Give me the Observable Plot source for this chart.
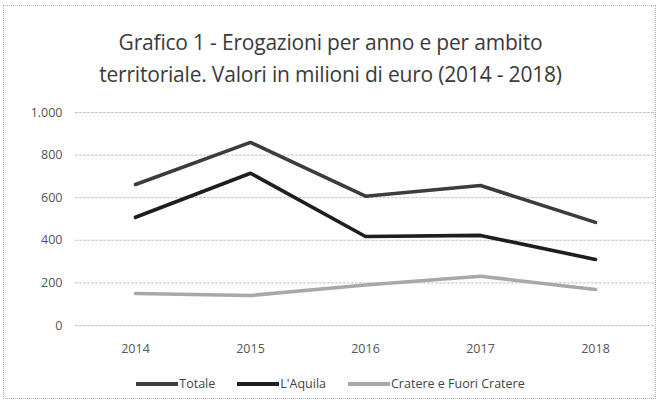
<!DOCTYPE html>
<html>
<head>
<meta charset="utf-8">
<script src="https://cdn.jsdelivr.net/npm/d3@7"></script>
<script src="https://cdn.jsdelivr.net/npm/@observablehq/plot@0.6"></script>
<style>
  html, body { margin: 0; padding: 0; background: #fff; }
  #frame { position: absolute; left: 3px; top: 5px; width: 653px; height: 394px; border: 1px dotted #b0b0b0; box-sizing: border-box; }
  #wrap { position: absolute; left: 0; top: 0; width: 661px; height: 403px; font-family: "Open Sans", sans-serif; }
  #title { position: absolute; left: 0; top: 26px; width: 661px; text-align: center; font-size: 21px; line-height: 32px; color: #3a3a3a; letter-spacing: -0.2px; }
  #chart { position: absolute; left: 0; top: 95px; }
  #legend { position: absolute; left: 0; top: 375px; width: 661px; display: flex; justify-content: center; gap: 22px; font-size: 12.5px; color: #444; }
  .item { display: flex; align-items: center; }
  .sw { width: 42px; height: 4px; margin-right: 1px; }
</style>
</head>
<body>
<div id="wrap">
  <div id="frame"></div>
  <div id="title">Grafico 1 - Erogazioni per anno e per ambito<br>territoriale. Valori in milioni di euro (2014 - 2018)</div>
  <div id="chart"></div>
  <div id="legend"></div>
</div>
<script>
const years = [2014, 2015, 2016, 2017, 2018];
const seriesNames = ["Totale", "L'Aquila", "Cratere e Fuori Cratere"];
const totale = [662, 860, 607, 657, 484];
const aquila = [508, 715, 418, 423, 310];
const cratere = [150, 141, 190, 231, 169];
const yTicks = [0, 200, 400, 600, 800, 1000];
const colors = ["#3c3c3c", "#1e1e1e", "#a8a8a8"];

const seriesValues = [totale, aquila, cratere];
const data = [];
seriesNames.forEach((name, i) => {
  years.forEach((yr, j) => data.push({ series: name, year: String(yr), value: seriesValues[i][j] }));
});

const itFormat = d3.formatLocale({ decimal: ",", thousands: ".", grouping: [3], currency: ["€", ""] }).format(",");

const chart = Plot.plot({
  width: 661,
  height: 270,
  marginLeft: 75,
  marginRight: 7,
  marginTop: 17,
  marginBottom: 40,
  style: { fontFamily: "Open Sans, sans-serif", fontSize: "12.5px", color: "#555", background: "transparent" },
  x: { type: "point", domain: years.map(String), padding: 0.5, label: null, tickSize: 0, tickPadding: 19 },
  y: { domain: [0, 1000], ticks: yTicks, tickFormat: itFormat, label: null, tickSize: 0, tickPadding: 13 },
  color: { domain: seriesNames, range: colors },
  marks: [
    Plot.gridY(yTicks, { stroke: "#c4c4c4", strokeOpacity: 1, strokeDasharray: "3,1" }),
    Plot.line(data, { x: "year", y: "value", z: "series", stroke: "series", strokeWidth: 3.6, strokeLinejoin: "miter" })
  ]
});
document.getElementById("chart").appendChild(chart);

const legend = document.getElementById("legend");
seriesNames.forEach((name, i) => {
  const it = document.createElement("div");
  it.className = "item";
  const sw = document.createElement("div");
  sw.className = "sw";
  sw.style.background = colors[i];
  const lb = document.createElement("span");
  lb.textContent = name;
  it.appendChild(sw);
  it.appendChild(lb);
  legend.appendChild(it);
});
</script>
</body>
</html>
